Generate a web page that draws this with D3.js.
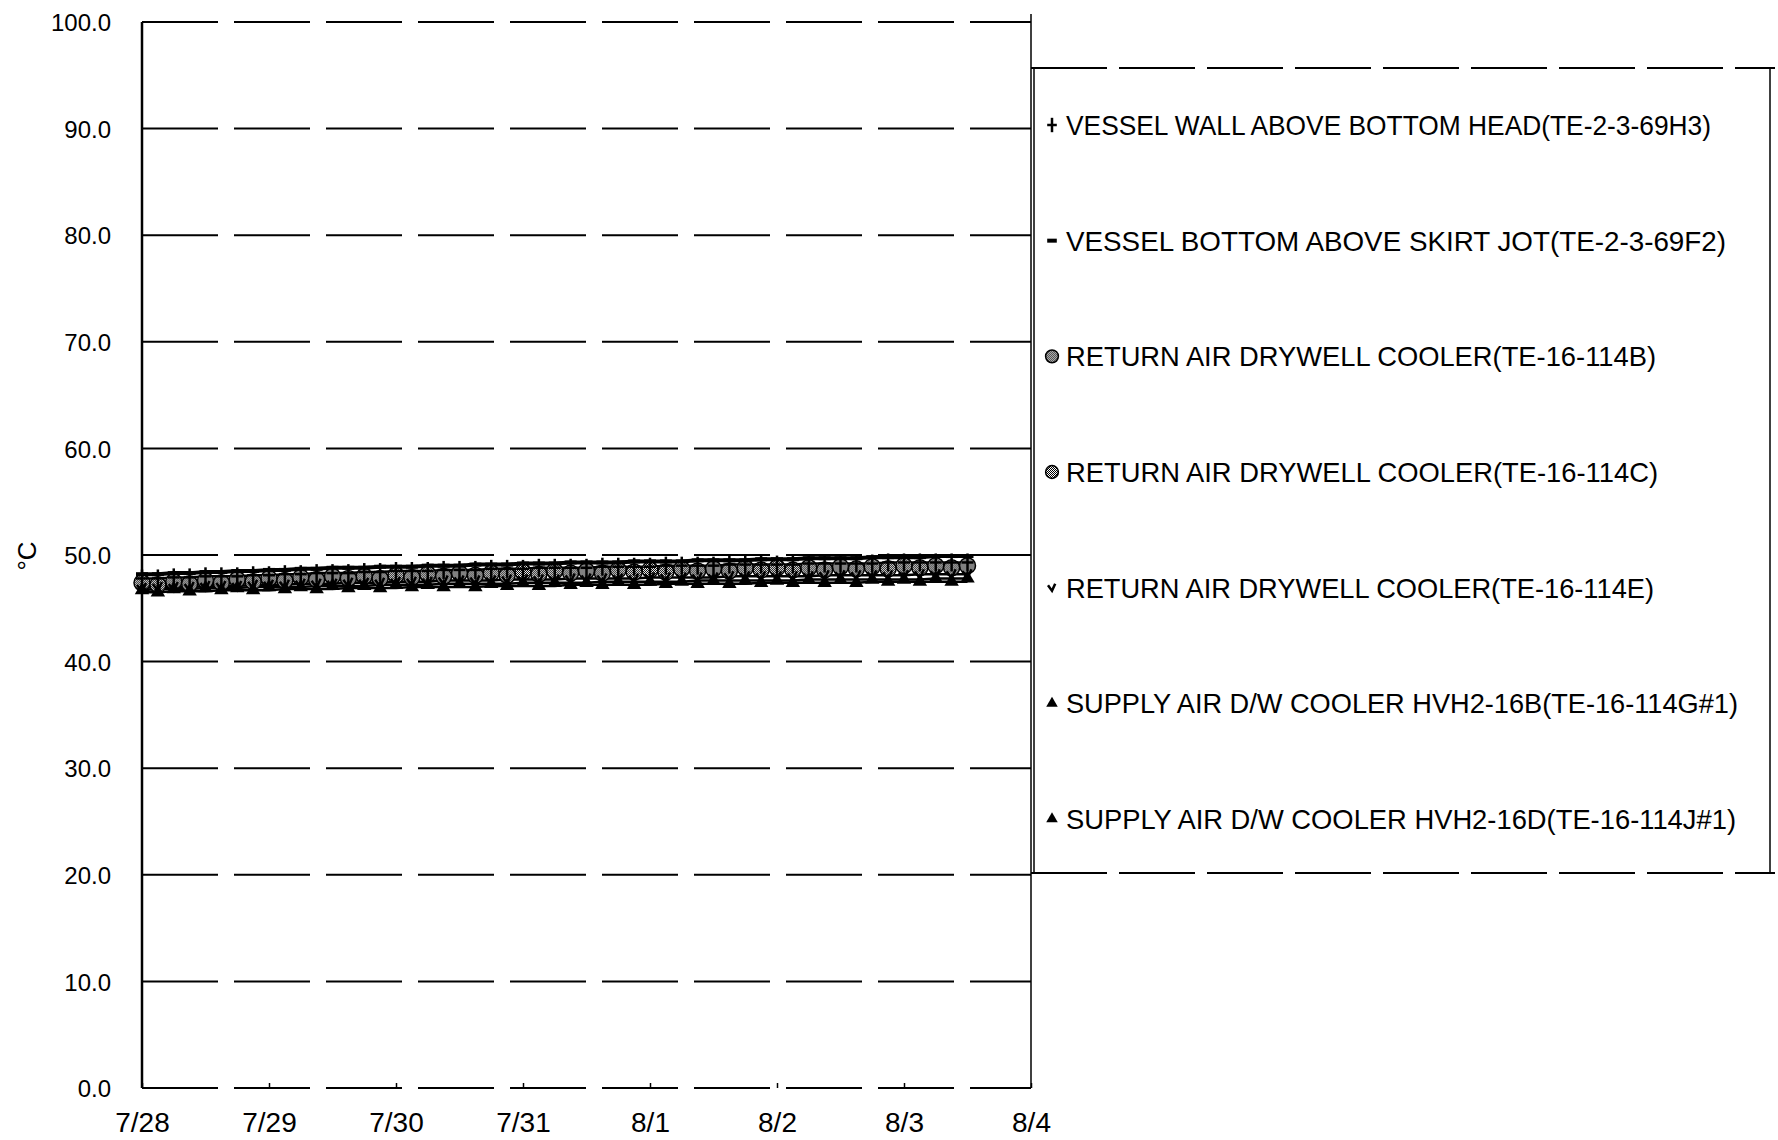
<!DOCTYPE html>
<html>
<head>
<meta charset="utf-8">
<script src="https://cdn.jsdelivr.net/npm/d3@7"></script>
<style>
    body { margin: 0; background: #fff; }
    svg { display: block; font-family: "Liberation Sans", Arial, sans-serif; }
</style>
</head>
<body>
<div id="chart"><svg></svg></div>
<script>

var width = 1778,
    height = 1140;

// Readings every 3 hours from 7/28 0:00 (°C).
var startDate = new Date(2011, 6, 28);
var endDate = new Date(2011, 7, 4);
var stepHours = 3;

var yTicks = [0, 10, 20, 30, 40, 50, 60, 70, 80, 90, 100];
var xTicks = ["7/28", "7/29", "7/30", "7/31", "8/1", "8/2", "8/3", "8/4"];

var seriesNames = [
    "VESSEL WALL ABOVE BOTTOM HEAD(TE-2-3-69H3)",
    "VESSEL BOTTOM ABOVE SKIRT JOT(TE-2-3-69F2)",
    "RETURN AIR DRYWELL COOLER(TE-16-114B)",
    "RETURN AIR DRYWELL COOLER(TE-16-114C)",
    "RETURN AIR DRYWELL COOLER(TE-16-114E)",
    "SUPPLY AIR D/W COOLER HVH2-16B(TE-16-114G#1)",
    "SUPPLY AIR D/W COOLER HVH2-16D(TE-16-114J#1)"
];
var seriesMarkers = ["plus", "dash", "dot", "dot", "tick", "triangle", "triangle"];

var te69H3 = [
    47.8,47.8,47.9,47.9,48.0,48.0,48.0,48.1,
    48.1,48.2,48.2,48.3,48.3,48.3,48.4,48.4,
    48.5,48.5,48.5,48.6,48.6,48.6,48.7,48.7,
    48.7,48.8,48.8,48.8,48.8,48.9,48.9,48.9,
    48.9,49.0,49.0,49.0,49.0,49.1,49.1,49.1,
    49.1,49.1,49.2,49.2,49.2,49.2,49.2,49.3,
    49.3,49.3,49.3,49.3,49.3
];
var te69F2 = [
    48.2,48.2,48.3,48.3,48.4,48.4,48.5,48.5,
    48.6,48.6,48.7,48.7,48.8,48.8,48.8,48.9,
    48.9,48.9,49.0,49.0,49.0,49.1,49.1,49.1,
    49.2,49.2,49.2,49.3,49.3,49.3,49.3,49.4,
    49.4,49.4,49.4,49.5,49.5,49.5,49.5,49.6,
    49.6,49.6,49.7,49.7,49.7,49.7,49.8,49.8,
    49.8,49.8,49.9,49.9,49.9
];
var te114B = [
    47.4,47.5,47.5,47.6,47.6,47.7,47.7,47.7,
    47.8,47.8,47.9,47.9,48.0,48.0,48.0,48.1,
    48.1,48.2,48.2,48.2,48.3,48.3,48.3,48.4,
    48.4,48.4,48.5,48.5,48.5,48.5,48.6,48.6,
    48.6,48.6,48.7,48.7,48.7,48.7,48.8,48.8,
    48.8,48.8,48.8,48.9,48.9,48.9,48.9,48.9,
    49.0,49.0,49.0,49.0,49.0
];
var te114C = [
    47.2,47.2,47.3,47.3,47.4,47.4,47.5,47.5,
    47.5,47.6,47.6,47.7,47.7,47.8,47.8,47.8,
    47.9,47.9,48.0,48.0,48.0,48.1,48.1,48.1,
    48.2,48.2,48.2,48.3,48.3,48.3,48.3,48.4,
    48.4,48.4,48.4,48.5,48.5,48.5,48.5,48.6,
    48.6,48.6,48.6,48.6,48.7,48.7,48.7,48.7,
    48.7,48.8,48.8,48.8,48.8
];
var te114E = [
    46.9,47.0,47.0,47.0,47.1,47.1,47.1,47.2,
    47.2,47.2,47.3,47.3,47.3,47.4,47.4,47.4,
    47.5,47.5,47.5,47.6,47.6,47.6,47.6,47.7,
    47.7,47.7,47.7,47.8,47.8,47.8,47.8,47.8,
    47.9,47.9,47.9,47.9,47.9,48.0,48.0,48.0,
    48.0,48.0,48.0,48.1,48.1,48.1,48.1,48.1,
    48.1,48.2,48.2,48.2,48.2
];
var te114G = [
    46.5,46.5,46.6,46.6,46.6,46.7,46.7,46.7,
    46.7,46.8,46.8,46.8,46.8,46.9,46.9,46.9,
    46.9,47.0,47.0,47.0,47.0,47.0,47.1,47.1,
    47.1,47.1,47.1,47.2,47.2,47.2,47.2,47.2,
    47.2,47.3,47.3,47.3,47.3,47.3,47.3,47.4,
    47.4,47.4,47.4,47.4,47.4,47.4,47.5,47.5,
    47.5,47.5,47.5,47.5,47.5
];
var te114J = [
    46.7,46.8,46.8,46.8,46.9,46.9,46.9,47.0,
    47.0,47.0,47.0,47.1,47.1,47.1,47.1,47.2,
    47.2,47.2,47.2,47.3,47.3,47.3,47.3,47.3,
    47.4,47.4,47.4,47.4,47.4,47.5,47.5,47.5,
    47.5,47.5,47.5,47.6,47.6,47.6,47.6,47.6,
    47.6,47.6,47.7,47.7,47.7,47.7,47.7,47.7,
    47.7,47.7,47.8,47.8,47.8
];

var seriesValues = [te69H3, te69F2, te114B, te114C, te114E, te114G, te114J];

var margin = {left: 142, right: 1031, top: 22, bottom: 1088};

// Printed widths of the legend labels (narrow typeface of the original).
var legendWidths = [645, 660, 590, 592, 588, 672, 670];

function run() {

    var svg = d3.select("#chart svg")
        .attr("width", width)
        .attr("height", height);

    // Halftone used for the grey dots in the scan.
    var defs = svg.append("defs");
    var pat = defs.append("pattern")
        .attr("id", "dither")
        .attr("patternUnits", "userSpaceOnUse")
        .attr("width", 2)
        .attr("height", 2);
    pat.append("rect").attr("width", 2).attr("height", 2).attr("fill", "#fff");
    pat.append("rect").attr("width", 1).attr("height", 1).attr("fill", "#000");
    pat.append("rect").attr("x", 1).attr("y", 1).attr("width", 1).attr("height", 1).attr("fill", "#000");

    var x = d3.scaleTime()
        .domain([startDate, endDate])
        .range([margin.left, margin.right]);

    var y = d3.scaleLinear()
        .domain([0, 100])
        .range([margin.bottom, margin.top]);

    // Dashed grid, top and bottom included.
    svg.append("g")
        .attr("class", "grid")
        .selectAll("line")
        .data(yTicks)
        .enter().append("line")
            .attr("x1", margin.left)
            .attr("x2", margin.right)
            .attr("y1", (d) => y(d))
            .attr("y2", (d) => y(d))
            .attr("stroke", "#000")
            .attr("stroke-width", 2)
            .attr("stroke-dasharray", "76,16");

    // Frame: solid left and right sides.
    svg.append("line")
        .attr("x1", margin.left).attr("x2", margin.left)
        .attr("y1", margin.top).attr("y2", margin.bottom)
        .attr("stroke", "#000").attr("stroke-width", 2.5);
    svg.append("line")
        .attr("x1", margin.right).attr("x2", margin.right)
        .attr("y1", margin.top - 8).attr("y2", margin.bottom)
        .attr("stroke", "#000").attr("stroke-width", 1.5);

    var yAxis = svg.append("g")
        .attr("transform", "translate(" + (margin.left - 28) + ",0)")
        .call(d3.axisLeft(y).tickValues(yTicks).tickSize(0).tickFormat(d3.format(".1f")));
    yAxis.select(".domain").remove();
    yAxis.selectAll("text")
        .attr("font-size", 24)
        .attr("font-family", "Liberation Sans, Arial, sans-serif")
        .attr("fill", "#000")
        .attr("dy", "0.36em");

    var dayTicks = xTicks.map((d, i) => d3.timeDay.offset(startDate, i));
    var xAxis = svg.append("g")
        .attr("transform", "translate(0," + margin.bottom + ")")
        .call(d3.axisBottom(x).tickValues(dayTicks).tickSize(-5).tickPadding(24)
            .tickFormat((d, i) => xTicks[i]));
    xAxis.select(".domain").remove();
    xAxis.selectAll("line").attr("stroke", "#000").attr("stroke-width", 1.5);
    xAxis.selectAll("text")
        .attr("font-size", 28)
        .attr("font-family", "Liberation Sans, Arial, sans-serif")
        .attr("fill", "#000");

    svg.append("text")
        .attr("transform", "translate(36,556) rotate(-90)")
        .attr("text-anchor", "middle")
        .attr("font-size", 26)
        .text("°C");

    // Series lines and markers.
    var timeOf = (i) => d3.timeHour.offset(startDate, i * stepHours);
    var line = d3.line()
        .x((d, i) => x(timeOf(i)))
        .y((d) => y(d));

    var plot = svg.append("g").attr("class", "series");

    seriesValues.forEach(function(values, s) {
        plot.append("path")
            .datum(values)
            .attr("d", line)
            .attr("fill", "none")
            .attr("stroke", "#000")
            .attr("stroke-width", s == 1 ? 4 : 2.5);
    });

    // Dots first, then the line-like markers on top.
    [2, 3, 5, 6, 4, 0, 1].forEach(function(s) {
        var values = seriesValues[s];
        var kind = seriesMarkers[s];
        var pts = values.map((v, i) => ({t: timeOf(i), v: v, i: i}));
        if (kind == "dot" || kind == "triangle")
            pts = pts.filter((p) => (p.i + s) % 2 == 0);
        var m = plot.append("g").selectAll("g").data(pts).enter().append("g")
            .attr("transform", (d) => "translate(" + x(d.t) + "," + y(d.v) + ")");
        drawMarker(m, kind, 1);
    });

    // Legend box.
    var legend = {left: 1031, right: 1770, top: 68, bottom: 873};
    [legend.top, legend.bottom].forEach(function(ly) {
        svg.append("line")
            .attr("x1", legend.left).attr("x2", legend.right + 5)
            .attr("y1", ly).attr("y2", ly)
            .attr("stroke", "#000").attr("stroke-width", 2)
            .attr("stroke-dasharray", "76,12");
    });
    svg.append("line")
        .attr("x1", legend.right).attr("x2", legend.right)
        .attr("y1", legend.top).attr("y2", legend.bottom)
        .attr("stroke", "#000").attr("stroke-width", 1.5);
    svg.append("line")
        .attr("x1", legend.left + 3).attr("x2", legend.left + 3)
        .attr("y1", legend.top).attr("y2", legend.bottom)
        .attr("stroke", "#000").attr("stroke-width", 1.5);

    var rowY = d3.scalePoint()
        .domain(d3.range(seriesNames.length))
        .range([125, 819]);

    var items = svg.append("g").selectAll("g")
        .data(seriesNames)
        .enter().append("g")
            .attr("transform", (d, i) => "translate(1052," + rowY(i) + ")");

    items.each(function(d, i) {
        drawMarker(d3.select(this), seriesMarkers[i], 0.8);
    });

    var labels = items.append("text")
        .attr("x", 14)
        .attr("y", 10)
        .attr("font-size", 28)
        .attr("fill", "#000")
        .text((d) => d);

    // Only squeeze a label when it runs wider than the printed one.
    labels.each(function(d, i) {
        if (this.getComputedTextLength() > legendWidths[i])
            d3.select(this)
                .attr("textLength", legendWidths[i])
                .attr("lengthAdjust", "spacingAndGlyphs");
    });
}

function drawMarker(m, kind, k) {
    if (kind == "plus") {
        m.append("line").attr("x1", 0).attr("x2", 0).attr("y1", -9 * k).attr("y2", 9 * k)
            .attr("stroke", "#000").attr("stroke-width", 2.5);
        m.append("line").attr("x1", -6 * k).attr("x2", 6 * k).attr("y1", 0).attr("y2", 0)
            .attr("stroke", "#000").attr("stroke-width", 2.5);
    } else if (kind == "dash") {
        m.append("line").attr("x1", -6 * k).attr("x2", 6 * k).attr("y1", 0).attr("y2", 0)
            .attr("stroke", "#000").attr("stroke-width", 4);
    } else if (kind == "dot") {
        m.append("circle").attr("r", 8 * k)
            .attr("fill", "url(#dither)").attr("stroke", "#000").attr("stroke-width", 1.5);
    } else if (kind == "tick") {
        m.append("path").attr("d", "M" + (-5 * k) + "," + (-3 * k) + "L0," + (4 * k) + "L" + (4 * k) + "," + (-5 * k))
            .attr("fill", "none").attr("stroke", "#000").attr("stroke-width", 2.5);
    } else if (kind == "triangle") {
        m.append("path").attr("d", d3.symbol(d3.symbolTriangle, 90 * k * k))
            .attr("fill", "#000");
    }
}

run();

</script>
</body>
</html>
